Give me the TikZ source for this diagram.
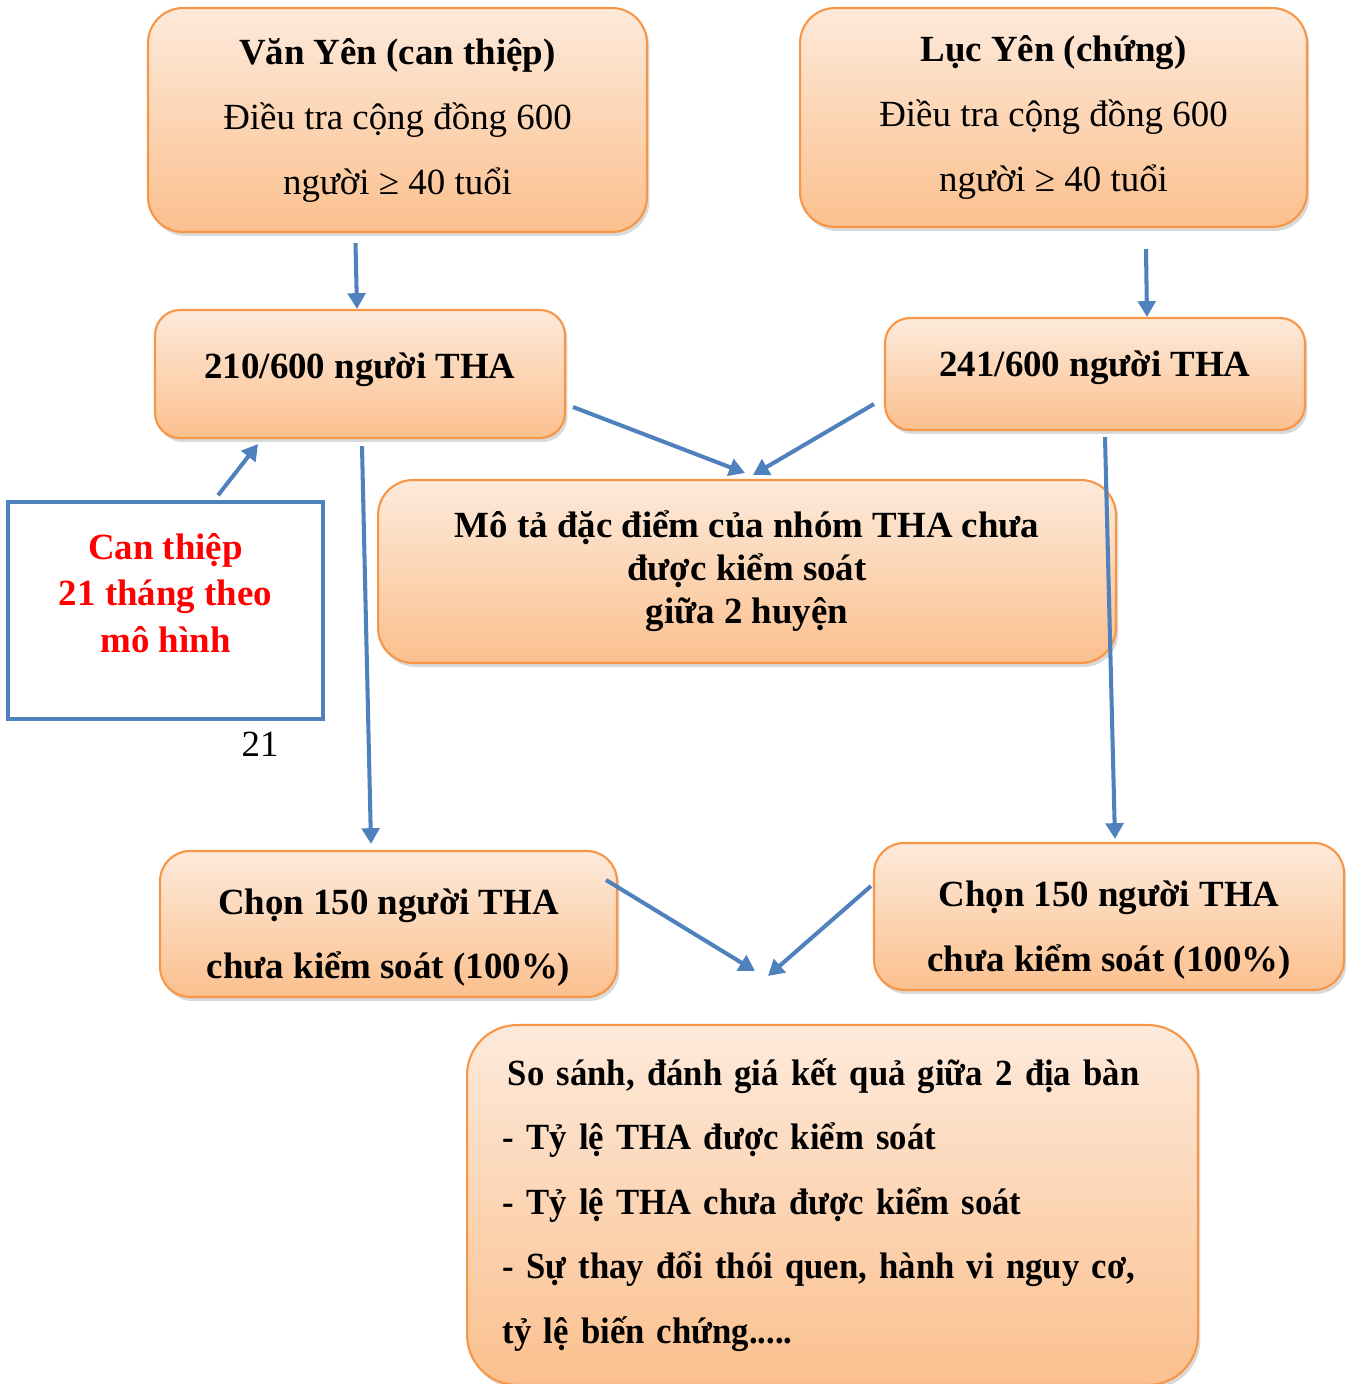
\documentclass[tikz,border=0pt]{standalone}
\usepackage{fontspec}
\setmainfont{Liberation Serif}
\newfontfamily\narrowserif[FakeStretch=0.94]{Liberation Serif}
\usetikzlibrary{arrows.meta, shadows, calc}

\definecolor{boxedge}{HTML}{F79646}
\definecolor{boxtop}{HTML}{FDEADB}
\definecolor{boxbot}{HTML}{FBC08E}
\definecolor{linkblue}{HTML}{4F81BD}

\begin{document}
\begin{tikzpicture}[x=0.02cm, y=-0.02cm,
  box/.style={draw=boxedge, line width=1.2pt, rounded corners=0.7cm,
    top color=boxtop, bottom color=boxbot, align=center, inner sep=0pt,
    font=\fontsize{21}{37}\selectfont,
    drop shadow={shadow xshift=0.05cm, shadow yshift=-0.08cm, opacity=0.3}},
  link/.style={draw=linkblue, line width=2.3pt, -{Triangle[length=9pt,width=10pt]}}]

  \useasboundingbox (0,0) rectangle (1346,1384);

  % Survey boxes
  \node[box, minimum width=9.98cm, minimum height=4.48cm] (vy) at (397.5,120)
    {\textbf{Văn Yên (can thiệp)}\\Điều tra cộng đồng 600\\người ≥ 40 tuổi};
  \node[box, minimum width=10.14cm, minimum height=4.38cm] (ly) at (1053.5,117.5)
    {\textbf{Lục Yên (chứng)}\\Điều tra cộng đồng 600\\người ≥ 40 tuổi};

  % Hypertension counts
  \node[box, rounded corners=0.5cm, minimum width=8.2cm, minimum height=2.56cm,
    font=\bfseries\fontsize{21}{37}\selectfont] (tha1) at (360,374)
    {210/600 người THA\rule[-10pt]{0pt}{10pt}};
  \node[box, rounded corners=0.5cm, minimum width=8.4cm, minimum height=2.24cm,
    font=\bfseries\fontsize{21}{37}\selectfont] (tha2) at (1095,374)
    {241/600 người THA\rule[-12pt]{0pt}{12pt}};

  % Description
  \node[box, minimum width=14.76cm, minimum height=3.66cm,
    font=\bfseries\fontsize{21}{24.5}\selectfont] (mota) at (747,571.5)
    {Mô tả đặc điểm của nhóm THA chưa\\được kiểm soát\\giữa 2 huyện};

  % Intervention
  \node[draw=linkblue, line width=2pt, fill=white, minimum width=6.3cm,
    minimum height=4.34cm] (ct) at (165.5,610.5) {};
  \node[text=red, align=center, font=\bfseries\fontsize{21}{26.6}\selectfont]
    (cttext) at (165.5,593) {Can thiệp\\21 tháng theo\\mô hình};
  \node[font=\fontsize{21}{25}\selectfont] (pgnum) at (260,744) {21};

  % Selected samples
  \node[box, rounded corners=0.6cm, minimum width=9.14cm, minimum height=2.92cm,
    font=\bfseries\fontsize{21}{36.5}\selectfont] (ch1) at (388.5,924)
    {\rule{0pt}{30pt}Chọn 150 người THA\\chưa kiểm soát (100\%)};
  \node[box, rounded corners=0.6cm, minimum width=9.4cm, minimum height=2.94cm,
    font=\bfseries\fontsize{21}{36.5}\selectfont] (ch2) at (1109,916.5)
    {\rule{0pt}{30pt}Chọn 150 người THA\\chưa kiểm soát (100\%)};

  % Comparison
  \node[box, rounded corners=1cm, minimum width=14.62cm, minimum height=7.2cm,
    text width=13.2cm, align=left,
    font=\narrowserif\bfseries\fontsize{21}{36.7}\selectfont] (ss) at (832.5,1205)
    {\hspace{3pt}So sánh, đánh giá kết quả giữa 2 địa bàn\\
     - Tỷ lệ THA được kiểm soát\\
     - Tỷ lệ THA chưa được kiểm soát\\
     - Sự thay đổi thói quen, hành vi nguy cơ,\\
     tỷ lệ biến chứng.....};

  \coordinate (meetL) at ($(ss.north)+(-77.5,-53)$);
  \coordinate (meetR) at ($(ss.north)+(-64.5,-48)$);

  % Arrows
  \draw[link] ($(vy.south)+(-42,10)$) -- ($(tha1.north)+(-3,0)$);
  \draw[link] ($(ly.south)+(92.5,21)$) -- ($(tha2.north)+(52,0)$);
  \draw[link] ($(tha1.east)+(7,33)$) -- ($(mota.north)+(-2,-6)$);
  \draw[link] ($(tha2.west)+(-10,30)$) -- ($(mota.north)+(6,-4)$);
  \draw[link] ($(ct.north)+(52.5,-5)$) -- ($(tha1.south)+(-102,5)$);
  \draw[link] ($(tha1.south)+(2,7)$) -- ($(ch1.north)+(-17.5,-6)$);
  \draw[link] ($(tha2.south)+(10,6)$) -- ($(ch2.north)+(6,-3)$);
  \draw[link] ($(ch1.east)+(-12,-44)$) -- (meetL);
  \draw[link] ($(ch2.west)+(-2,-30.5)$) -- (meetR);

\end{tikzpicture}
\end{document}
